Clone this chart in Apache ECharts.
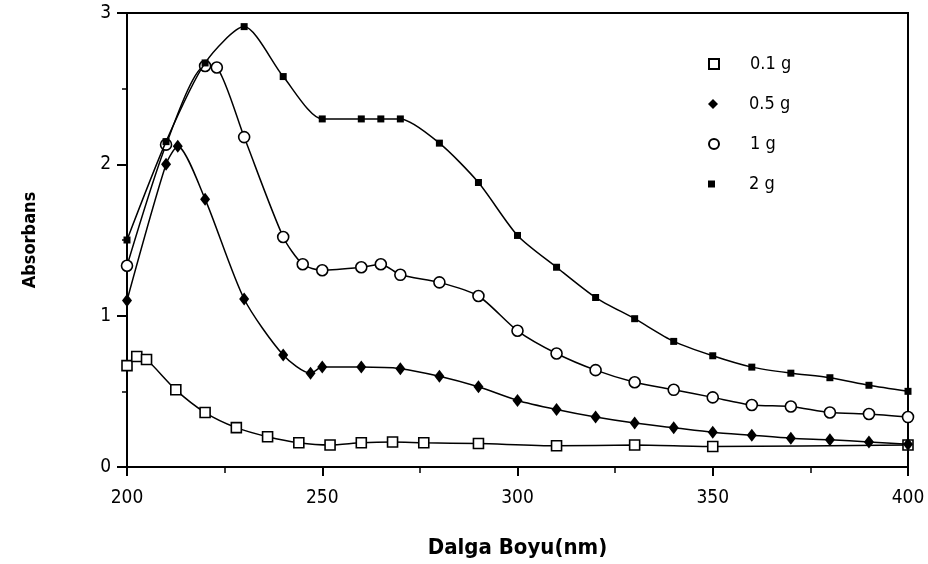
<html>
<head>
<meta charset="utf-8">
<title>Absorbans</title>
<style>
  * { margin: 0; padding: 0 }
  html, body { width: 100%; height: 100%; background: #fff; }
  #chart { width: 928px; height: 564px; }
</style>
<script src="https://cdn.jsdelivr.net/npm/echarts@6/dist/echarts.min.js"></script>
</head>
<body>
<div id="chart"></div>
<script>
const seriesNames = ['0.1 g', '0.5 g', '1 g', '2 g'];

const x01 = [200, 202.5, 205, 212.5, 220, 228, 236, 244, 252, 260, 268, 276, 290, 310, 330, 350, 400];
const y01 = [0.67, 0.73, 0.71, 0.51, 0.36, 0.26, 0.20, 0.16, 0.145, 0.16, 0.165, 0.16, 0.155, 0.14, 0.145, 0.135, 0.145];

const x05 = [200, 210, 213, 220, 230, 240, 247, 250, 260, 270, 280, 290, 300, 310, 320, 330, 340, 350, 360, 370, 380, 390, 400];
const y05 = [1.10, 2.00, 2.12, 1.77, 1.11, 0.74, 0.62, 0.66, 0.66, 0.65, 0.60, 0.53, 0.44, 0.38, 0.33, 0.29, 0.26, 0.23, 0.21, 0.19, 0.18, 0.165, 0.15];

const x1 = [200, 210, 220, 223, 230, 240, 245, 250, 260, 265, 270, 280, 290, 300, 310, 320, 330, 340, 350, 360, 370, 380, 390, 400];
const y1 = [1.33, 2.13, 2.65, 2.64, 2.18, 1.52, 1.34, 1.30, 1.32, 1.34, 1.27, 1.22, 1.13, 0.90, 0.75, 0.64, 0.56, 0.51, 0.46, 0.41, 0.40, 0.36, 0.35, 0.33];

const x2 = [200, 210, 220, 230, 240, 250, 260, 265, 270, 280, 290, 300, 310, 320, 330, 340, 350, 360, 370, 380, 390, 400];
const y2 = [1.50, 2.15, 2.67, 2.91, 2.58, 2.30, 2.30, 2.30, 2.30, 2.14, 1.88, 1.53, 1.32, 1.12, 0.98, 0.83, 0.735, 0.66, 0.62, 0.59, 0.54, 0.50];

const xTicks = [200, 250, 300, 350, 400];

const pairs = (xs, ys) => xs.map((x, i) => [x, ys[i]]);

const FONT = '"DejaVu Sans Condensed", "DejaVu Sans", sans-serif';

const styles = [
  { symbol: 'rect', size: 10, item: { color: '#fff', borderColor: '#000', borderWidth: 1.6 } },
  { symbol: 'diamond', size: [10, 13], item: { color: '#000', borderColor: '#000', borderWidth: 0 } },
  { symbol: 'circle', size: 11, item: { color: '#fff', borderColor: '#000', borderWidth: 1.6 } },
  { symbol: 'rect', size: 7, item: { color: '#000', borderColor: '#000', borderWidth: 0 } }
];
const allData = [pairs(x01, y01), pairs(x05, y05), pairs(x1, y1), pairs(x2, y2)];

const chart = echarts.init(document.getElementById('chart'));

// one legend per item so each icon keeps its own size
const legends = seriesNames.map((name, i) => ({
  data: [{ name: name, icon: styles[i].symbol }],
  left: 703,
  top: 50 + i * 40,
  itemWidth: i === 3 ? 7 : 10,
  itemHeight: i === 3 ? 7 : 10,
  itemGap: 0,
  textStyle: { fontFamily: FONT, fontSize: 18, color: '#000', padding: [0, 0, 0, i === 3 ? 29 : 26] },
  selectedMode: false
}));

chart.setOption({
  animation: false,
  backgroundColor: '#fff',
  legend: legends,
  grid: {
    left: 127, right: 20, top: 13, bottom: 97,
    show: true, borderColor: '#000', borderWidth: 2, backgroundColor: 'transparent'
  },
  xAxis: {
    type: 'value',
    min: 200, max: 400, interval: 50,
    name: 'Dalga Boyu(nm)',
    nameLocation: 'middle',
    nameGap: 70,
    nameTextStyle: { fontFamily: FONT, fontWeight: 'bold', fontSize: 22, color: '#000' },
    axisLine: { lineStyle: { color: '#000', width: 2 } },
    axisTick: { show: true, inside: false, length: 9, lineStyle: { color: '#000', width: 2 } },
    minorTick: { show: true, splitNumber: 2, length: 6, lineStyle: { color: '#000', width: 1.5 } },
    splitLine: { show: false },
    axisLabel: {
      margin: 22, fontFamily: FONT, fontSize: 19, color: '#000',
      customValues: xTicks
    }
  },
  yAxis: {
    type: 'value',
    min: 0, max: 3, interval: 1,
    name: 'Absorbans',
    nameLocation: 'middle',
    nameGap: 88,
    nameRotate: 90,
    nameTextStyle: { fontFamily: FONT, fontWeight: 'bold', fontSize: 18, color: '#000' },
    axisLine: { show: true, lineStyle: { color: '#000', width: 2 } },
    axisTick: { show: true, inside: false, length: 10, lineStyle: { color: '#000', width: 2 } },
    minorTick: { show: true, splitNumber: 2, length: 5, lineStyle: { color: '#000', width: 1.5 } },
    splitLine: { show: false },
    axisLabel: { margin: 16, fontFamily: FONT, fontSize: 19, color: '#000' }
  },
  series: seriesNames.map((name, i) => ({
    name: name,
    type: 'line',
    data: allData[i],
    smooth: 0.25,
    symbol: styles[i].symbol,
    symbolSize: styles[i].size,
    showAllSymbol: true,
    lineStyle: { color: '#000', width: 1.5 },
    itemStyle: styles[i].item,
    z: 3 + i
  }))
});
</script>
</body>
</html>
